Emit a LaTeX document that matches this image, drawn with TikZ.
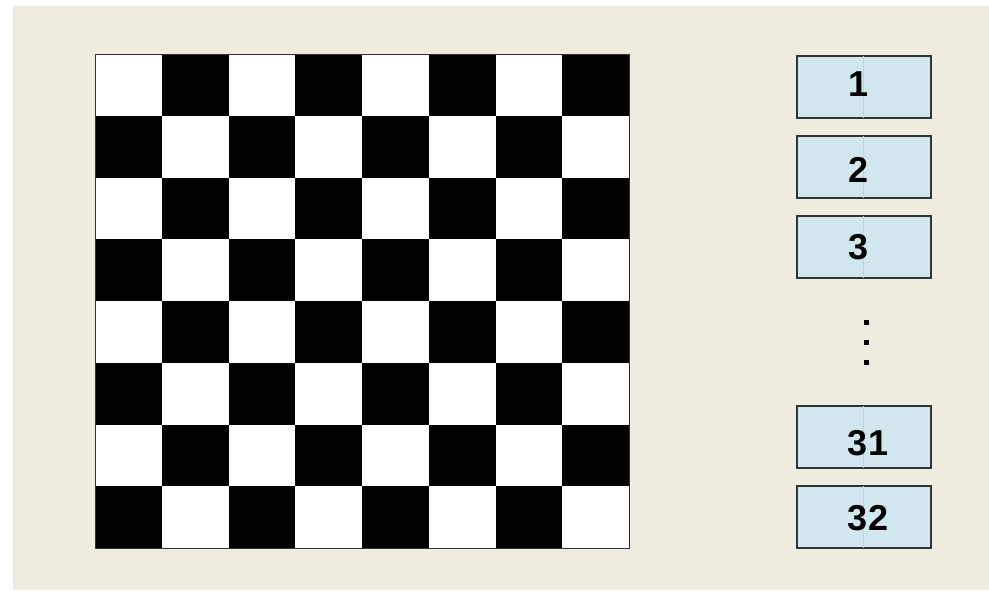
\documentclass[tikz,border=0pt]{standalone}
\usepackage{fontspec}
\setmainfont{Liberation Sans}
\definecolor{bgbeige}{HTML}{EDECDF}
\definecolor{boxblue}{HTML}{D1E7EF}
\definecolor{boxline}{HTML}{BBD3DC}
\definecolor{edgegray}{HTML}{333333}
\tikzset{
  numbox/.style={draw=edgegray,line width=1.5pt,fill=boxblue,minimum width=134pt,minimum height=62pt,inner sep=0pt,anchor=north west},
  numtext/.style={font=\fontsize{36}{36}\bfseries\selectfont,text=black,inner sep=0pt},
  dotmark/.style={fill=black,minimum size=5pt,inner sep=0pt}
}
\begin{document}
\begin{tikzpicture}[x=1pt,y=-1pt]
\useasboundingbox (0,0) rectangle (989,590);
\fill[bgbeige] (13,6) rectangle (989,590);
% board
\fill[white] (95,54) rectangle (629,548);
\foreach \r in {0,...,7}{
  \foreach \c in {0,...,7}{
    \pgfmathtruncatemacro{\myparity}{mod(\r+\c,2)}
    \ifnum\myparity=1
      \fill[black] ({95+\c*66.75},{54+\r*61.75}) rectangle ({95+(\c+1)*66.75},{54+(\r+1)*61.75});
    \fi
  }
}
\node[draw=edgegray,line width=1.3pt,minimum width=534pt,minimum height=494pt,inner sep=0pt,anchor=north west] (board) at (95,54) {};
% boxes
\node[numbox] (b1) at (796,55) {};
\node[numbox] (b2) at (796,135) {};
\node[numbox] (b3) at (796,215) {};
\node[numbox] (b31) at (796,405) {};
\node[numbox] (b32) at (796,485) {};
\foreach \b in {b1,b2,b3,b31,b32}{
  \draw[boxline,line width=0.8pt] ([xshift=67pt,yshift=-0.8pt]\b.north west) -- ([xshift=67pt,yshift=0.8pt]\b.south west);
}
\node[numtext] (t1) at (859,84) {1};
\node[numtext] (t2) at (859,170) {2};
\node[numtext] (t3) at (859,247) {3};
\node[numtext] (t31) at (868,443) {31};
\node[numtext] (t32) at (868,518) {32};
\node[dotmark] (d1) at (866,322) {};
\node[dotmark] (d2) at (866,342) {};
\node[dotmark] (d3) at (866,362) {};
\end{tikzpicture}
\end{document}
